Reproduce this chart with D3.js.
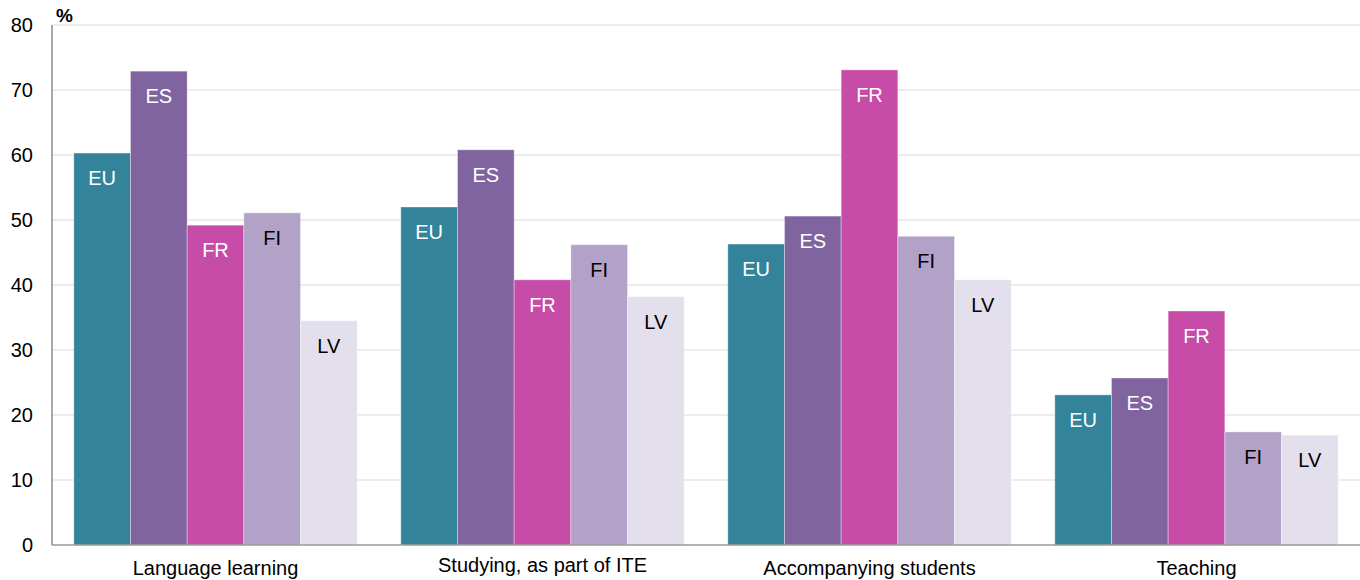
<!DOCTYPE html>
<html>
<head>
<meta charset="UTF-8">
<title>Mobility purposes</title>
<script src="https://d3js.org/d3.v7.min.js"></script>
<style>
  body { margin: 0; background: #fff; }
  text { font-family: "Liberation Sans", Arial, sans-serif; }
  .grid line { stroke: #d9d9d9; stroke-width: 1; }
</style>
</head>
<body>
<div id="chart"></div>
<script>
// data
var categories = ["Language learning", "Studying, as part of ITE", "Accompanying students", "Teaching"];
var countries = ["EU", "ES", "FR", "FI", "LV"];
var euValues = [60.3, 52.0, 46.3, 23.1];
var esValues = [72.9, 60.8, 50.6, 25.7];
var frValues = [49.2, 40.8, 73.1, 36.0];
var fiValues = [51.1, 46.2, 47.5, 17.4];
var lvValues = [34.5, 38.2, 40.8, 16.9];
var yTicks = [0, 10, 20, 30, 40, 50, 60, 70, 80];

var series = [euValues, esValues, frValues, fiValues, lvValues];
var colors = ["#33849a", "#7f64a0", "#c64ca7", "#b3a2c8", "#e4dfec"];
var labelColors = ["#fff", "#fff", "#fff", "#000", "#000"];

var width = 1360, height = 580;
var margin = {top: 25, right: 0, bottom: 35, left: 52};

var svg = d3.select("#chart").append("svg")
    .attr("width", width)
    .attr("height", height);

var y = d3.scaleLinear()
    .domain([0, 80])
    .range([height - margin.bottom, margin.top]);

var x0 = d3.scaleBand()
    .domain(categories)
    .range([margin.left, width - margin.right])
    .padding(0);

var x1 = d3.scaleBand()
    .domain(countries)
    .range([0, x0.bandwidth()])
    .paddingInner(0)
    .paddingOuter(0.385);

// gridlines
svg.append("g")
    .attr("class", "grid")
    .selectAll("line")
    .data(yTicks.filter(function(d) { return d > 0; }))
    .enter().append("line")
    .attr("x1", margin.left)
    .attr("x2", width - margin.right)
    .attr("y1", function(d) { return y(d); })
    .attr("y2", function(d) { return y(d); });

// y tick labels
svg.append("g")
    .selectAll("text")
    .data(yTicks)
    .enter().append("text")
    .attr("x", 33)
    .attr("y", function(d) { return y(d) + 7; })
    .attr("text-anchor", "end")
    .style("font-size", "20px")
    .text(function(d) { return d; });

svg.append("text")
    .attr("x", 56)
    .attr("y", 22)
    .style("font-size", "19px")
    .style("font-weight", "bold")
    .text("%");

// bars
var rows = [];
categories.forEach(function(c, i) {
  countries.forEach(function(k, j) {
    rows.push({cat: c, country: k, idx: j, value: series[j][i]});
  });
});

var groups = svg.append("g");

groups.selectAll("rect")
    .data(rows)
    .enter().append("rect")
    .attr("x", function(d) { return x0(d.cat) + x1(d.country); })
    .attr("y", function(d) { return y(d.value); })
    .attr("width", x1.bandwidth())
    .attr("height", function(d) { return y(0) - y(d.value); })
    .attr("fill", function(d) { return colors[d.idx]; })
    .attr("stroke", "#fff")
    .attr("stroke-opacity", 0.35)
    .attr("stroke-width", 1);

groups.selectAll("text")
    .data(rows)
    .enter().append("text")
    .attr("x", function(d) { return x0(d.cat) + x1(d.country) + x1.bandwidth() / 2; })
    .attr("y", function(d) { return y(d.value) + 32; })
    .attr("text-anchor", "middle")
    .style("font-size", "20px")
    .attr("fill", function(d) { return labelColors[d.idx]; })
    .text(function(d) { return d.country; });

// axes lines
svg.append("line")
    .attr("x1", margin.left).attr("x2", margin.left)
    .attr("y1", y(80)).attr("y2", y(0))
    .attr("stroke", "#8c8c8c").attr("stroke-width", 1.5);

svg.append("line")
    .attr("x1", margin.left).attr("x2", width - margin.right)
    .attr("y1", y(0)).attr("y2", y(0))
    .attr("stroke", "#999").attr("stroke-width", 1.5);

// category labels
svg.append("g")
    .selectAll("text")
    .data(categories)
    .enter().append("text")
    .attr("x", function(d) { return x0(d) + x0.bandwidth() / 2; })
    .attr("y", function(d, i) { return i === 1 ? 572 : 575; })
    .attr("text-anchor", "middle")
    .style("font-size", "20px")
    .text(function(d) { return d; });
</script>
</body>
</html>
